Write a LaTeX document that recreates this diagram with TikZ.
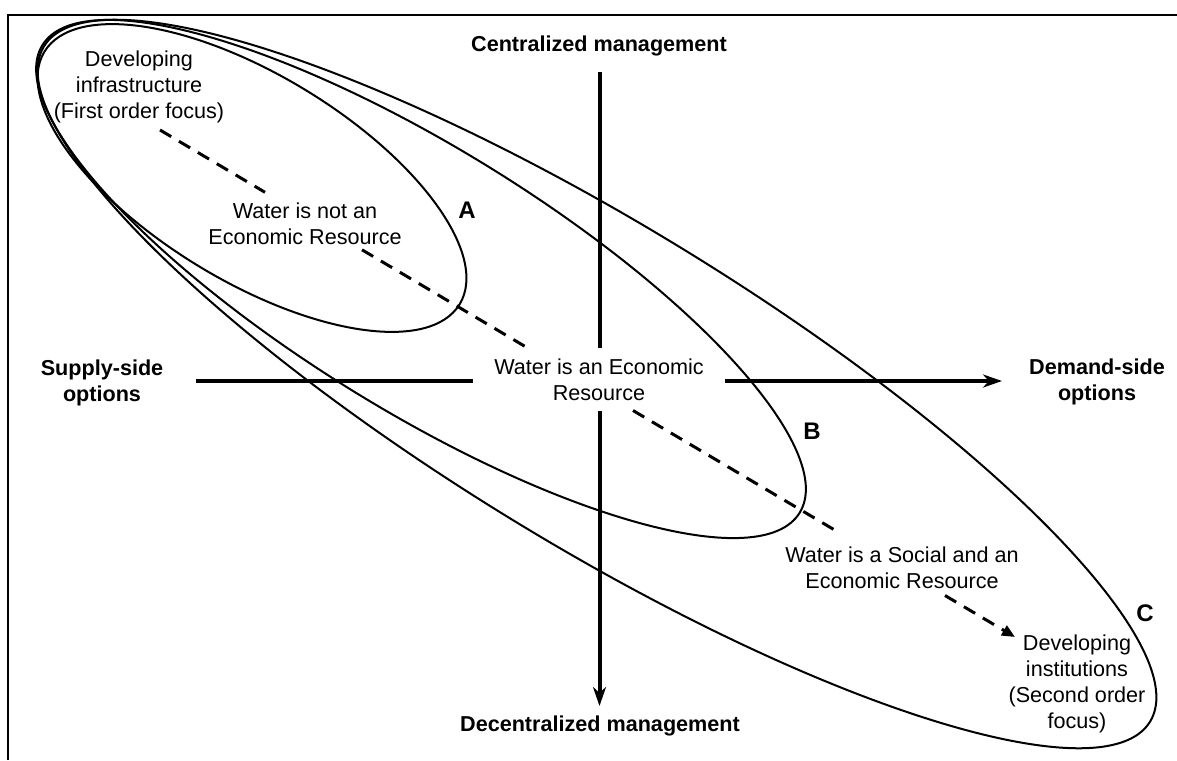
\documentclass[tikz,border=0pt]{standalone}
\usepackage{fontspec}
\setmainfont{Liberation Sans}
\usetikzlibrary{arrows.meta}
\begin{document}
\begin{tikzpicture}[x=0.5pt,y=-0.5pt,
  txt/.style={font=\fontsize{10.8pt}{12.9pt}\selectfont, align=center, inner sep=0pt},
  btxt/.style={txt, font=\fontsize{10.8pt}{12.9pt}\selectfont\bfseries},
  lab/.style={font=\fontsize{12pt}{14pt}\selectfont\bfseries, inner sep=0pt},
  axis/.style={line width=2pt},
  axarrow/.style={axis, -{Stealth[length=9.5pt,width=6.5pt,inset=3pt]}},
  ell/.style={line width=1pt},
  dashln/.style={line width=1.5pt, dash pattern=on 6.5pt off 4.5pt},
  framel/.style={line width=1pt}]
\useasboundingbox (0,0) rectangle (1177,760);
% frame
\draw[framel] (7.5,760) -- (7.5,14.5) -- (1177,14.5);
% ellipses
\draw[ell, rotate around={-31.3:(252,178)}] (252,178) ellipse [x radius=121.5pt, y radius=51.5pt];
\draw[ell, rotate around={-31.7:(421,279)}] (421,279) ellipse [x radius=222.5pt, y radius=65.5pt];
\draw[ell, rotate around={-31.4:(597,384)}] (597,384) ellipse [x radius=324pt, y radius=80pt];
% text nodes
\node[btxt] (cent) at (599,46) {Centralized management};
\node[btxt] (decent) at (600,726) {Decentralized management};
\node[btxt] (supply) at (102,383) {Supply-side\\options};
\node[btxt] (demand) at (1097,382) {Demand-side\\options};
\node[txt, minimum width=126pt, minimum height=31.5pt] (econ) at (599,379.5) {Water is an Economic\\Resource};
\node[txt] (notecon) at (305,224) {Water is not an\\Economic Resource};
\node[txt] (devinf) at (139,87) {Developing\\infrastructure\\(First order focus)};
\node[txt] (social) at (902,568) {Water is a Social and an\\Economic Resource};
\node[txt] (devinst) at (1077,684) {Developing\\institutions\\(Second order\\focus)};
\node[lab] (labA) at (467,210) {A};
\node[lab] (labB) at (812,431) {B};
\node[lab] (labC) at (1145,613) {C};
% axes
\coordinate (vtop) at (599.5,72);
\coordinate (vbot) at (599.5,706);
\coordinate (hleft) at (196,381);
\coordinate (hright) at (1002,381);
\draw[axis] (vtop) -- (econ.north -| vtop);
\draw[axarrow] (econ.south -| vbot) -- (vbot);
\draw[axis] (hleft) -- (econ.west |- hleft);
\draw[axarrow] (econ.east |- hright) -- (hright);
% dashed path
\coordinate (d1) at (160,130);
\coordinate (d2) at (265,192.3);
\coordinate (d3) at (362,249.8);
\coordinate (d4) at (528,348.2);
\coordinate (d5) at (633,410.5);
\coordinate (d6) at (838,532);
\coordinate (d7) at (945,595.5);
\coordinate (d8) at (1015,637);
\draw[dashln] (d1) -- (d2);
\draw[dashln] (d3) -- (d4);
\draw[dashln] (d5) -- (d6);
\draw[dashln, -{Triangle[length=6.5pt,width=5.5pt]}] (d7) -- (d8);
\end{tikzpicture}
\end{document}
